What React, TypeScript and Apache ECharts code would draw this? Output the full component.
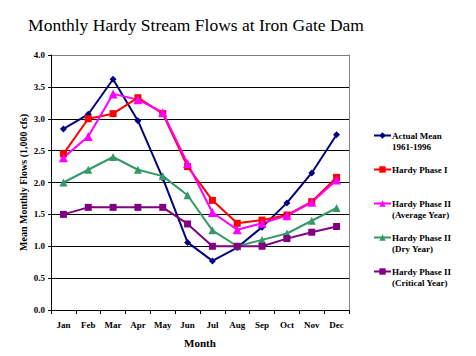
import React, { useEffect, useRef } from "react";
import * as echarts from "echarts";

const months = ["Jan", "Feb", "Mar", "Apr", "May", "Jun", "Jul", "Aug", "Sep", "Oct", "Nov", "Dec"];
const actualMean = [2.84, 3.07, 3.62, 2.97, 2.07, 1.06, 0.77, 0.98, 1.3, 1.68, 2.15, 2.75];
const phaseI = [2.45, 3.0, 3.08, 3.33, 3.08, 2.25, 1.72, 1.36, 1.41, 1.49, 1.7, 2.08];
const phaseIIAvg = [2.39, 2.72, 3.39, 3.3, 3.1, 2.3, 1.53, 1.26, 1.36, 1.48, 1.69, 2.04];
const phaseIIDry = [2.0, 2.2, 2.4, 2.2, 2.1, 1.8, 1.25, 1.0, 1.1, 1.2, 1.4, 1.6];
const phaseIICrit = [1.5, 1.61, 1.61, 1.61, 1.61, 1.35, 1.0, 1.0, 1.0, 1.12, 1.22, 1.31];

const seriesNames = [
  "Actual Mean 1961-1996",
  "Hardy Phase I",
  "Hardy Phase II (Average Year)",
  "Hardy Phase II (Dry Year)",
  "Hardy Phase II (Critical Year)",
];
const legendLabels: Record<string, string> = {
  "Actual Mean 1961-1996": "\nActual Mean\n1961-1996",
  "Hardy Phase I": "\nHardy Phase I\n ",
  "Hardy Phase II (Average Year)": "\nHardy Phase II\n(Average Year)",
  "Hardy Phase II (Dry Year)": "\nHardy Phase II\n(Dry Year)",
  "Hardy Phase II (Critical Year)": "\nHardy Phase II\n(Critical Year)",
};

const FONT = '"Liberation Serif", "Times New Roman", serif';

export default function App() {
  const ref = useRef<HTMLDivElement>(null);
  useEffect(() => {
    if (!ref.current) return;
    const chart = echarts.init(ref.current, null, { renderer: "svg" });
    const mk = (name: string, data: number[], color: string, symbol: string, size: number) => ({
      name,
      type: "line",
      data,
      symbol,
      symbolSize: size,
      lineStyle: { color, width: 2 },
      itemStyle: { color },
      emphasis: { disabled: true },
    });
    chart.setOption({
      animation: false,
      backgroundColor: "#ffffff",
      textStyle: { fontFamily: FONT },
      title: {
        text: "Monthly Hardy Stream Flows at Iron Gate Dam",
        left: 191,
        textAlign: "center",
        top: 11,
        textStyle: { fontFamily: FONT, fontSize: 17.5, fontWeight: "normal", color: "#000" },
      },
      legend: {
        orient: "vertical",
        left: 373,
        top: 119,
        padding: 0,
        itemGap: 1,
        itemWidth: 17,
        itemHeight: 8,
        data: seriesNames,
        formatter: (n: string) => legendLabels[n] || n,
        textStyle: {
          fontFamily: FONT,
          fontSize: 9,
          fontWeight: "bold",
          color: "#000",
          lineHeight: 11,
          padding: [0, 0, 0, -4],
        },
      },
      grid: { left: 51, right: 127, top: 55, bottom: 46, show: false, outerBoundsMode: "none", containLabel: false },
      xAxis: {
        type: "category",
        data: months,
        boundaryGap: true,
        name: "Month",
        nameLocation: "middle",
        nameGap: 27,
        nameMoveOverlap: false,
        nameTextStyle: { fontFamily: FONT, fontSize: 11, fontWeight: "bold", color: "#000" },
        axisLine: { lineStyle: { color: "#000", width: 1 } },
        axisTick: { show: true, length: 4, lineStyle: { color: "#000" } },
        axisLabel: { fontFamily: FONT, fontSize: 9, fontWeight: "bold", color: "#000", margin: 10 },
      },
      yAxis: {
        type: "value",
        min: 0,
        max: 4,
        interval: 0.5,
        name: "Mean Monthly Flows (1,000 cfs)",
        nameLocation: "middle",
        nameGap: 23,
        nameMoveOverlap: false,
        nameTextStyle: { fontFamily: FONT, fontSize: 10, fontWeight: "bold", color: "#000" },
        axisLine: { show: true, lineStyle: { color: "#000", width: 1 } },
        axisTick: { show: true, length: 3, lineStyle: { color: "#000" } },
        axisLabel: {
          fontFamily: FONT,
          fontSize: 9,
          fontWeight: "bold",
          color: "#000",
          margin: 6,
          formatter: (v: number) => v.toFixed(1),
        },
        splitLine: {
          show: true,
          lineStyle: {
            color: ["#000", "#000", "#000", "#000", "#000", "#000", "#000", "#000", "#808080"],
            width: 1,
          },
        },
      },
      graphic: [
        {
          type: "line",
          shape: { x1: 349.5, y1: 54.5, x2: 349.5, y2: 310.5 },
          style: { stroke: "#808080", lineWidth: 1 },
          z: 0,
        },
      ],
      series: [
        mk(seriesNames[0], actualMean, "#000080", "diamond", 7),
        mk(seriesNames[1], phaseI, "#ff0000", "rect", 7),
        mk(seriesNames[2], phaseIIAvg, "#ff00ff", "triangle", 9),
        mk(seriesNames[3], phaseIIDry, "#339966", "triangle", 8),
        mk(seriesNames[4], phaseIICrit, "#800080", "rect", 7),
      ],
    });
    return () => chart.dispose();
  }, []);
  return <div ref={ref} style={{ width: 476, height: 356, margin: -8 }} />;
}
